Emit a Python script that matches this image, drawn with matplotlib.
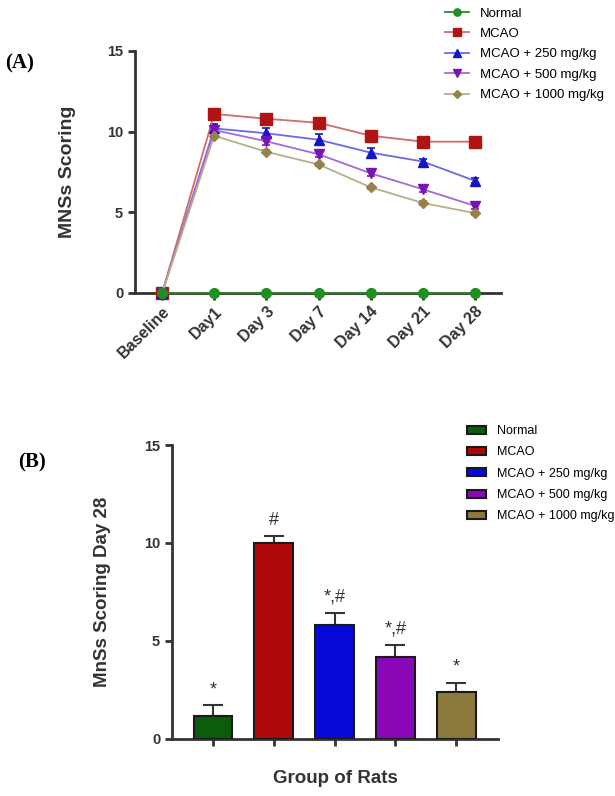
import numpy as np
import matplotlib
matplotlib.use("Agg")
import matplotlib.pyplot as plt

plt.rcParams['font.family'] = ['Liberation Sans', 'DejaVu Sans']

# ---- data: panel A (time course) ----
days = ['Baseline', 'Day1', 'Day 3', 'Day 7', 'Day 14', 'Day 21', 'Day 28']
groups = ['Normal', 'MCAO', 'MCAO + 250 mg/kg', 'MCAO + 500 mg/kg', 'MCAO + 1000 mg/kg']
normal = [0, 0, 0, 0, 0, 0, 0]
mcao = [0, 11.1, 10.8, 10.55, 9.75, 9.38, 9.38]
mcao_250 = [0, 10.2, 9.9, 9.5, 8.7, 8.15, 6.95]
mcao_500 = [0, 10.1, 9.4, 8.6, 7.42, 6.43, 5.4]
mcao_1000 = [0, 9.75, 8.75, 7.97, 6.55, 5.58, 4.95]
err_mcao = [0, 0.3, 0.15, 0.2, 0.2, 0.15, 0.15]
err_250 = [0, 0.3, 0.3, 0.35, 0.3, 0.15, 0.15]
err_500 = [0, 0.3, 0.2, 0.15, 0.15, 0.15, 0.2]
err_1000 = [0, 0.15, 0.1, 0.1, 0.1, 0.1, 0.1]

# ---- data: panel B (day 28) ----
day28_mean = [1.18, 10.0, 5.82, 4.17, 2.38]
day28_err = [0.55, 0.38, 0.62, 0.65, 0.5]
day28_sig = ['*', '#', '*,#', '*,#', '*']

marker_colors = ['#1f8f1f', '#b01414', '#1414c8', '#7a12b4', '#948248']
line_colors = ['#2a8a2a', '#d46a6a', '#6a6ae6', '#a46ad8', '#b8ae86']
markers = ['o', 's', '^', 'v', 'D']
msizes = [7, 8, 7, 7, 5]
bar_colors = ['#0b5c0b', '#b00808', '#0808d8', '#8a08b8', '#8c7a3c']
axis_col = '#333333'

fig = plt.figure(figsize=(6.15, 7.96), dpi=100)


def style_axes(ax):
    for s in ['top', 'right']:
        ax.spines[s].set_visible(False)
    for s in ['left', 'bottom']:
        ax.spines[s].set_color(axis_col)
        ax.spines[s].set_linewidth(2)
    ax.tick_params(axis='both', colors=axis_col, width=2, length=5,
                   labelsize=10.5)
    for lab in ax.get_yticklabels():
        lab.set_fontweight('bold')


# ---------------- panel A ----------------
axA = fig.add_axes([135 / 615, 1 - 293 / 796, (501 - 135) / 615, (293 - 51) / 796])
x = np.arange(len(days))
series = [normal, mcao, mcao_250, mcao_500, mcao_1000]
errs = [None, err_mcao, err_250, err_500, err_1000]
handles = []
for i, (vals, e) in enumerate(zip(series, errs)):
    if e is not None:
        axA.errorbar(x, vals, yerr=e, fmt='none', ecolor=marker_colors[i],
                     elinewidth=1.2, capsize=3, capthick=1.2, zorder=3)
    h, = axA.plot(x, vals, color=line_colors[i], lw=1.3, marker=markers[i],
                  ms=msizes[i], mfc=marker_colors[i], mec=marker_colors[i],
                  zorder=4 if i else 5, clip_on=False)
    handles.append(h)

axA.set_xlim(-0.52, 6.5)
axA.set_ylim(0, 15)
axA.set_yticks([0, 5, 10, 15])
axA.set_xticks(x)
style_axes(axA)
axA.set_xticklabels(days, rotation=45, ha='right', rotation_mode='anchor',
                    fontweight='bold', fontsize=11.5, color=axis_col)
axA.tick_params(axis='x', pad=3)
axA.set_ylabel('MNSs Scoring', fontsize=14, fontweight='bold', color=axis_col,
               labelpad=22)
fig.text(5 / 615, 1 - 63 / 796, '(A)', family='Liberation Serif',
         fontweight='bold', fontsize=15, va='center', ha='left')
fig.legend(handles, groups, loc='upper left', bbox_to_anchor=(440 / 615, 1 - 2 / 796),
           frameon=False, fontsize=9.5, handlelength=1.8, handletextpad=0.8,
           labelspacing=0.62, borderaxespad=0, markerscale=0.75)

# ---------------- panel B ----------------
axB = fig.add_axes([172 / 615, 1 - 739 / 796, (498 - 172) / 615, (739 - 445) / 796])
xb = np.arange(len(groups))
zeros = np.zeros(len(groups))
bars = axB.bar(xb, day28_mean, width=0.64, color=bar_colors, edgecolor='#1a1a1a',
               linewidth=1.5, zorder=3)
axB.errorbar(xb, day28_mean, yerr=[zeros, day28_err], fmt='none', ecolor=axis_col,
             elinewidth=1.5, capsize=7, capthick=1.5, zorder=2)
for xi, m, e, s in zip(xb, day28_mean, day28_err, day28_sig):
    axB.text(xi, m + e + 0.35, s, ha='center', va='bottom', fontsize=13,
             color=axis_col)
axB.set_xlim(-0.675, 4.69)
axB.set_ylim(0, 15)
axB.set_yticks([0, 5, 10, 15])
axB.set_xticks(xb)
style_axes(axB)
axB.set_xticklabels([''] * len(groups))
axB.set_ylabel('MnSs Scoring Day 28', fontsize=13.5, fontweight='bold',
               color=axis_col, labelpad=24)
axB.set_xlabel('Group of Rats', fontsize=13.5, fontweight='bold', color=axis_col,
               labelpad=14)
fig.text(18 / 615, 1 - 462 / 796, '(B)', family='Liberation Serif',
         fontweight='bold', fontsize=15, va='center', ha='left')
fig.legend(bars, groups, loc='upper left', bbox_to_anchor=(462 / 615, 1 - 420 / 796),
           frameon=False, fontsize=9, handlelength=1.5, handleheight=0.6,
           handletextpad=0.9, labelspacing=0.75, borderaxespad=0)

fig.savefig('out.png', dpi=100)
